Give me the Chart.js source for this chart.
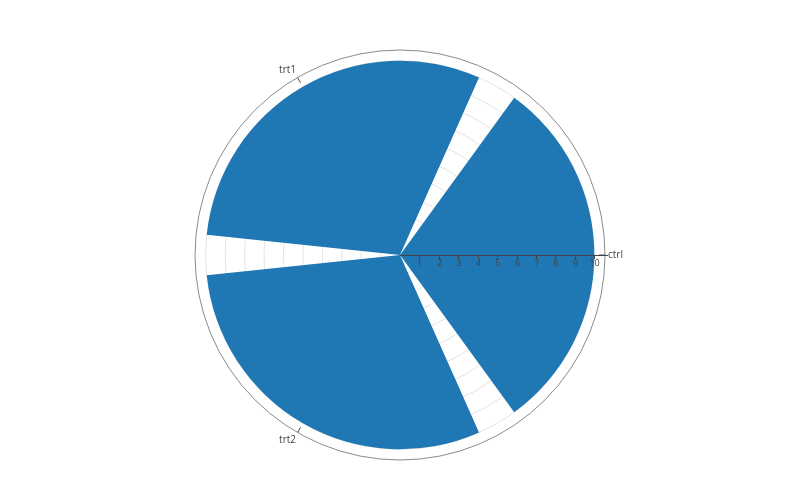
<!DOCTYPE html>
<html>
<head>
<meta charset="utf-8">
<script src="https://cdn.jsdelivr.net/npm/chart.js@4"></script>
<style>
  html, body { margin: 0; padding: 0; background: #fff; }
  #wrap { width: 800px; height: 500px; }
</style>
</head>
<body>
<div id="wrap"><canvas id="myChart"></canvas></div>
<script>
const categories = ['ctrl', 'trt1', 'trt2'];
const counts = [10, 10, 10];
// angular position of each category, degrees counter-clockwise from east
const thetas = [0, 120, 240];
const barWidth = 108;
const radialTicks = [1, 2, 3, 4, 5, 6, 7, 8, 9, 10];
const radialMax = 10.55;

// chart.js goes clockwise from the top, so walk the categories that way
const order = categories.map((c, i) => i)
  .sort((a, b) => ((thetas[0] - thetas[a] + 360) % 360) - ((thetas[0] - thetas[b] + 360) % 360));
const gap = 360 / categories.length - barWidth;
const values = [];
const arcAngles = [];
const arcLabels = [];
order.forEach(i => {
  values.push(counts[i]); arcAngles.push(barWidth); arcLabels.push(categories[i]);
  values.push(0); arcAngles.push(gap); arcLabels.push('');
});
const startAngle = 90 - (thetas[order[0]] + barWidth / 2);

const polarAxes = {
  id: 'polarAxes',
  afterDatasetsDraw(chart) {
    const r = chart.scales.r;
    const c = chart.ctx;
    const cx = r.xCenter, cy = r.yCenter;
    const outer = r.getDistanceFromCenterForValue(radialMax);
    c.save();
    c.strokeStyle = '#444';
    c.fillStyle = '#444';
    c.lineWidth = 1;
    // radial axis along east
    c.beginPath();
    c.moveTo(cx, cy + 0.5);
    c.lineTo(cx + outer + 3, cy + 0.5);
    c.stroke();
    c.font = '9px "Open Sans", sans-serif';
    c.textAlign = 'center';
    c.textBaseline = 'top';
    radialTicks.forEach(v => {
      const x = Math.round(cx + r.getDistanceFromCenterForValue(v)) + 0.5;
      c.beginPath();
      c.moveTo(x, cy);
      c.lineTo(x, cy + 4);
      c.stroke();
      c.fillText(String(v), x, cy + 4);
    });
    // angular ticks + labels
    c.font = '10px "Open Sans", sans-serif';
    categories.forEach((cat, i) => {
      const a = thetas[i] * Math.PI / 180;
      const ux = Math.cos(a), uy = -Math.sin(a);
      c.beginPath();
      c.moveTo(cx + ux * outer, cy + uy * outer);
      c.lineTo(cx + ux * (outer - 6), cy + uy * (outer - 6));
      c.stroke();
      c.textAlign = ux > 0.1 ? 'left' : (ux < -0.1 ? 'right' : 'center');
      c.textBaseline = uy < -0.1 ? 'bottom' : (uy > 0.1 ? 'top' : 'middle');
      const lr = outer + 3;
      c.fillText(cat, cx + ux * lr, cy + uy * lr);
    });
    c.restore();
  }
};

new Chart(document.getElementById('myChart'), {
  type: 'polarArea',
  data: {
    labels: arcLabels,
    datasets: [{
      data: values,
      angle: arcAngles,
      backgroundColor: '#1f77b4',
      borderWidth: 0
    }]
  },
  options: {
    responsive: true,
    maintainAspectRatio: false,
    animation: false,
    layout: { padding: { top: 50, bottom: 40, left: 0, right: 0 } },
    plugins: { legend: { display: false }, tooltip: { enabled: false } },
    scales: {
      r: {
        min: 0,
        max: radialMax,
        startAngle: startAngle,
        ticks: { display: false, stepSize: 1 },
        pointLabels: { display: false },
        angleLines: { display: false },
        grid: {
          color: ctx => ctx.tick && ctx.tick.value === radialMax ? '#8a8a8a' : '#e3e3e3',
          lineWidth: 1
        }
      }
    }
  },
  plugins: [polarAxes]
});
</script>
</body>
</html>
